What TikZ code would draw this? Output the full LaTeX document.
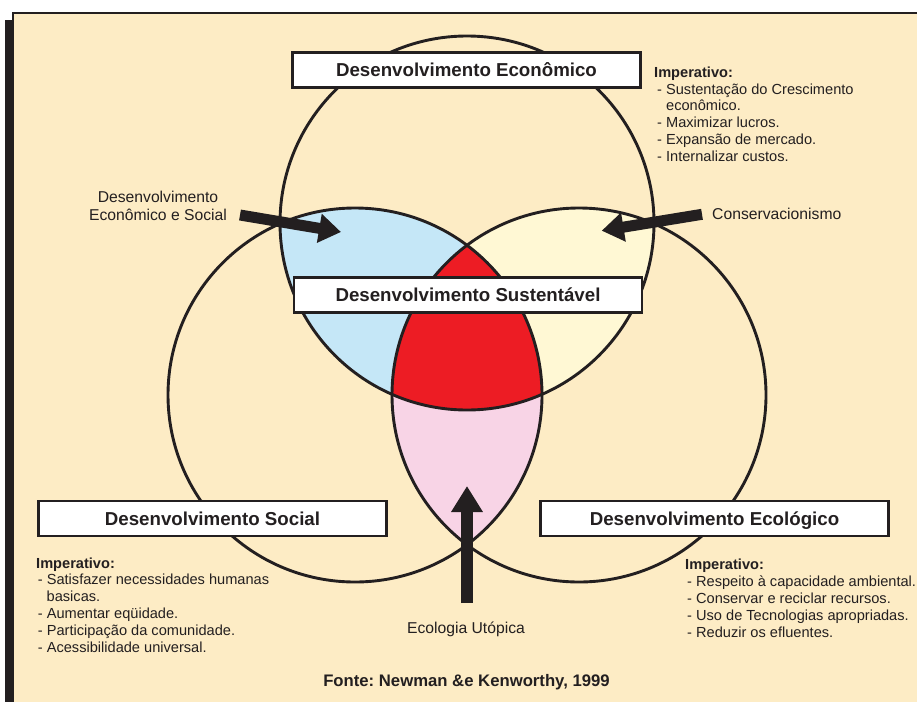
\documentclass[tikz,border=0pt]{standalone}
\usepackage{fontspec}
\setmainfont{Liberation Sans}
\usetikzlibrary{arrows.meta}
\frenchspacing
\definecolor{cream}{HTML}{FDECC5}
\definecolor{ink}{HTML}{231F20}
\definecolor{blueR}{HTML}{C5E7F7}
\definecolor{yelR}{HTML}{FFF8D4}
\definecolor{redR}{HTML}{ED1C24}
\definecolor{pinkR}{HTML}{F8D4E6}
\tikzset{
  box/.style={draw=ink, line width=2.2pt, fill=white, minimum width=348pt, minimum height=35pt,
    inner sep=0pt, text height=13.4pt, text depth=0pt,
    font=\fontsize{18.7}{20}\selectfont\bfseries, text=ink},
  listtxt/.style={anchor=base west, inner sep=0pt, font=\fontsize{14.6}{16.8}\selectfont, text=ink},
  listhead/.style={listtxt, font=\fontsize{14.6}{16.8}\selectfont\bfseries},
  lbl/.style={inner sep=0pt, font=\fontsize{15.7}{18}\selectfont, text=ink},
  blockarrow/.style={draw=ink, line width=11pt, -{Triangle[width=28pt,length=22pt]}},
  ring/.style={draw=ink, line width=2.9pt}
}
\begin{document}
\begin{tikzpicture}[x=1pt, y=-1pt]
\useasboundingbox (0,0) rectangle (917,701);
% frame and shadow
\fill[ink] (5,20.5) rectangle (12.5,705);
\filldraw[fill=cream, draw=ink, line width=2.2pt] (13.2,13.2) rectangle (930,720);

% region fills
\begin{scope}
  \clip (467,223) circle[radius=187pt];
  \fill[blueR] (355,395) circle[radius=187pt];
  \fill[yelR] (579,395) circle[radius=187pt];
\end{scope}
\begin{scope}
  \clip (355,395) circle[radius=187pt];
  \fill[pinkR] (579,395) circle[radius=187pt];
\end{scope}
\begin{scope}
  \clip (467,223) circle[radius=187pt];
  \clip (355,395) circle[radius=187pt];
  \fill[redR] (579,395) circle[radius=187pt];
\end{scope}

% circle outlines
\draw[ring] (467,223) circle[radius=187pt];
\draw[ring] (355,395) circle[radius=187pt];
\draw[ring] (579,395) circle[radius=187pt];

% boxes
\node[box] (eco) at (466.5,70) {Desenvolvimento Econômico};
\node[box] (sus) at (468,295) {Desenvolvimento Sustentável};
\node[box] (soc) at (212.5,518.5) {Desenvolvimento Social};
\node[box] (ecol) at (714.5,518.5) {Desenvolvimento Ecológico};

% economic imperatives
\node[listhead] (e0) at (654,77) {Imperativo:};
\node[listtxt] (e1) at (657,94) {- Sustentação do Crescimento};
\node[listtxt] (e2) at (666,110.8) {econômico.};
\node[listtxt] (e3) at (657,127.6) {- Maximizar lucros.};
\node[listtxt] (e4) at (657,144.4) {- Expansão de mercado.};
\node[listtxt] (e5) at (657,161.2) {- Internalizar custos.};

% social imperatives
\node[listhead] (s0) at (36,568) {Imperativo:};
\node[listtxt] (s1) at (37.7,584.8) {- Satisfazer necessidades humanas};
\node[listtxt] (s2) at (46.5,601.6) {basicas.};
\node[listtxt] (s3) at (37.7,618.4) {- Aumentar eqüidade.};
\node[listtxt] (s4) at (37.7,635.2) {- Participação da comunidade.};
\node[listtxt] (s5) at (37.7,652) {- Acessibilidade universal.};

% ecological imperatives
\node[listhead] (g0) at (685,569) {Imperativo:};
\node[listtxt] (g1) at (687,586) {- Respeito à capacidade ambiental.};
\node[listtxt] (g2) at (687,603) {- Conservar e reciclar recursos.};
\node[listtxt] (g3) at (687,620) {- Uso de Tecnologias apropriadas.};
\node[listtxt] (g4) at (687,637) {- Reduzir os efluentes.};

% labels
\node[lbl, anchor=base] (l1a) at (158,202.3) {Desenvolvimento};
\node[lbl, anchor=base] (l1b) at (158,220) {Econômico e Social};
\node[lbl, anchor=base west] (l2) at (712,219.3) {Conservacionismo};
\node[lbl, anchor=base] (l3) at (466,633) {Ecologia Utópica};
\node[inner sep=0pt, anchor=base, font=\fontsize{16.7}{19}\selectfont\bfseries, text=ink] (src) at (466.5,686.7) {Fonte: Newman \&e Kenworthy, 1999};

% arrows
\coordinate (a1s) at (240,215);
\coordinate (a1e) at (341,232);
\coordinate (a2s) at (702,214.3);
\coordinate (a2e) at (601.7,230.7);
\coordinate (a3s) at (467,603);
\coordinate (a3e) at (467,486);
\draw[blockarrow] (a1s) -- (a1e);
\draw[blockarrow] (a2s) -- (a2e);
\draw[blockarrow, line width=12pt, -{Triangle[width=30pt,length=26pt]}] (a3s) -- (a3e);
\end{tikzpicture}
\end{document}
